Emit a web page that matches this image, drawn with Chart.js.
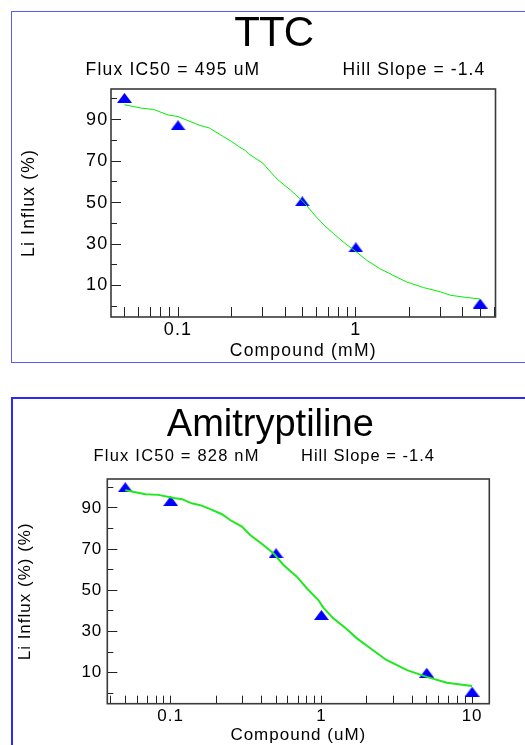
<!DOCTYPE html>
<html>
<head>
<meta charset="utf-8">
<script src="https://cdn.jsdelivr.net/npm/chart.js@4.4.1/dist/chart.umd.min.js"></script>
<style>
  html, body { margin: 0; padding: 0; background: #fff; }
  body { width: 525px; height: 745px; position: relative; overflow: hidden; font-family: "Liberation Sans", Arial, sans-serif; }
  .box { position: absolute; left: 11px; width: 600px; box-sizing: border-box; }
  #box1 { top: 11px; height: 352px; border: 1px solid #5a5aff; }
  #box2 { top: 397px; height: 420px; border: 2px solid #2a2aff; }
  canvas { position: absolute; left: 0; }
  .txt { position: absolute; white-space: nowrap; line-height: 1; color: #000; }
</style>
</head>
<body>
<div class="box" id="box1"></div>
<div class="box" id="box2"></div>
<canvas id="c1" width="525" height="370" style="top:0"></canvas>
<canvas id="c2" width="525" height="375" style="top:370px"></canvas>

<div class="txt" style="left:273.7px; top:11px; font-size:42px; transform:translateX(-50%); letter-spacing:-1px;">TTC</div>
<div class="txt" style="left:85.6px; top:61.2px; font-size:17.5px; letter-spacing:1.2px;">Flux IC50 = 495 uM</div>
<div class="txt" style="left:342.6px; top:61.2px; font-size:17.5px; letter-spacing:1.1px;">Hill Slope = -1.4</div>

<div class="txt" style="left:270.3px; top:403.5px; font-size:38px; transform:translateX(-50%);">Amitryptiline</div>
<div class="txt" style="left:93.6px; top:446.7px; font-size:16.5px; letter-spacing:1.2px;">Flux IC50 = 828 nM</div>
<div class="txt" style="left:301px; top:446.7px; font-size:16.5px; letter-spacing:1px;">Hill Slope = -1.4</div>

<script>
// TTC (mM)
const ttcDose = [0.05, 0.1, 0.5, 1, 5];
const ttcInflux = [100.5, 87.3, 50.6, 28.4, 1.3];
const ttcFitDose = [0.05, 0.062, 0.073, 0.088, 0.1, 0.133, 0.15, 0.18, 0.2, 0.22, 0.24, 0.25, 0.3, 0.35, 0.37, 0.43, 0.49, 0.52, 0.6, 0.68, 0.75, 0.87, 1.0, 1.15, 1.36, 1.62, 1.93, 2.4, 3.0, 3.4, 4.2, 5.0];
const ttcFitInflux = [97.2, 95.6, 94.9, 92.3, 91.5, 87.2, 86.0, 81.8, 79.5, 77.0, 75.0, 73.5, 69.0, 62.5, 60.5, 56.0, 51.5, 49.3, 43.0, 38.2, 35.0, 30.3, 26.4, 22.2, 18.2, 14.9, 11.7, 9.0, 6.9, 5.3, 4.2, 3.5];
const ttcTicksX = [0.05, 0.06, 0.07, 0.08, 0.09, 0.1, 0.2, 0.3, 0.4, 0.5, 0.6, 0.7, 0.8, 0.9, 1, 2, 3, 4, 5, 6];
const ttcLabelsX = [0.1, 1];

// Amitryptiline (uM)
const amiDose = [0.05, 0.1, 0.5, 1, 5, 10];
const amiInflux = [100, 93.3, 68, 38, 10, 0.8];
const amiFitDose = [0.05, 0.068, 0.083, 0.107, 0.119, 0.138, 0.161, 0.188, 0.219, 0.248, 0.297, 0.337, 0.412, 0.48, 0.56, 0.687, 0.8, 0.955, 1.03, 1.2, 1.47, 1.72, 2.1, 2.7, 3.7, 5.0, 6.8, 10];
const amiFitInflux = [98.5, 96.6, 96.3, 94.7, 94.2, 92.2, 91.1, 89.0, 86.9, 84.1, 80.9, 76.8, 72.0, 68.0, 62.3, 56.6, 51.0, 45.3, 41.6, 36.4, 31.2, 26.7, 22.0, 16.2, 11.3, 8.0, 5.2, 3.6];
const amiTicksX = [0.04, 0.05, 0.06, 0.07, 0.08, 0.09, 0.1, 0.2, 0.3, 0.4, 0.5, 0.6, 0.7, 0.8, 0.9, 1, 2, 3, 4, 5, 6, 7, 8, 9, 10];
const amiLabelsX = [0.1, 1, 10];

const yLabelTicks = [10, 30, 50, 70, 90];
const yMinorTicks = [0, 20, 40, 60, 80, 100];

const FONT = '"Liberation Sans", Arial, sans-serif';

// flat blue triangle used as the point marker (centred on the value)
function triangleMark(w, h, color) {
  const c = document.createElement('canvas');
  c.width = w; c.height = h;
  const g = c.getContext('2d');
  g.fillStyle = color;
  g.beginPath();
  g.moveTo(w / 2, 0);
  g.lineTo(w, h);
  g.lineTo(0, h);
  g.closePath();
  g.fill();
  return c;
}
const marker = triangleMark(15, 10, '#0000ff');

// frame round the plot area
const framePlugin = {
  id: 'frame',
  beforeDatasetsDraw(chart) {
    const a = chart.chartArea, ctx = chart.ctx;
    ctx.save();
    ctx.strokeStyle = '#3a3a3a';
    ctx.lineWidth = 1.6;
    ctx.strokeRect(a.left, a.top, a.right - a.left, a.bottom - a.top);
    ctx.restore();
  }
};

function spacing(px) {
  return {
    id: 'spacing',
    beforeUpdate(chart) { chart.ctx.letterSpacing = px; },
    beforeDraw(chart) { chart.ctx.letterSpacing = px; }
  };
}

function makeChart(id, o) {
  const H = o.height;
  return new Chart(document.getElementById(id), {
    type: 'scatter',
    data: {
      datasets: [
        {
          data: o.fitX.map((x, i) => ({ x: x, y: o.fitY[i] })),
          showLine: true,
          borderColor: o.lineColor,
          borderWidth: o.lineWidth,
          pointRadius: 0,
          tension: 0,
          fill: false
        },
        {
          data: o.x.map((x, i) => ({ x: x, y: o.y[i] })),
          pointStyle: marker,
          pointRadius: 8
        }
      ]
    },
    options: {
      responsive: false,
      animation: false,
      events: [],
      layout: { padding: { left: 0, top: o.plot.top, right: 525 - o.plot.right, bottom: 0 } },
      plugins: { legend: { display: false }, tooltip: { enabled: false } },
      scales: {
        x: {
          type: 'logarithmic',
          min: o.xMin, max: o.xMax,
          afterBuildTicks: s => { s.ticks = o.ticksX.map(v => ({ value: v })); },
          afterFit: s => { s.height = H - o.plot.bottom; },
          ticks: {
            autoSkip: false, maxRotation: 0, minRotation: 0,
            color: '#000', padding: o.xPad,
            font: { family: FONT, size: o.tickSize },
            callback: v => o.labelsX.includes(v) ? String(v) : ''
          },
          grid: { drawOnChartArea: false, tickLength: o.xTick, color: '#222', lineWidth: 1 },
          border: { display: false },
          title: {
            display: true, text: o.xTitle, color: '#000',
            font: { family: FONT, size: o.titleSize },
            padding: { top: 0, bottom: o.xTitlePad }
          }
        },
        y: {
          type: 'linear', position: 'left', weight: 1,
          min: o.yMin, max: o.yMax,
          afterBuildTicks: s => { s.ticks = yLabelTicks.map(v => ({ value: v })); },
          afterFit: s => { s.width = o.plot.left; },
          ticks: { color: '#000', padding: o.yPad, font: { family: FONT, size: o.tickSize } },
          grid: { drawOnChartArea: false, tickLength: -10, color: '#222', lineWidth: 1 },
          border: { display: false },
          title: {
            display: true, text: o.yTitle, color: '#000',
            font: { family: FONT, size: o.titleSize },
            padding: { top: o.yTitlePad, bottom: 0 }
          }
        },
        y2: {
          type: 'linear', position: 'left', weight: 0,
          min: o.yMin, max: o.yMax,
          afterBuildTicks: s => { s.ticks = yMinorTicks.map(v => ({ value: v })); },
          afterFit: s => { s.width = 0; },
          ticks: { display: false },
          grid: { drawOnChartArea: false, tickLength: -6, color: '#222', lineWidth: 1 },
          border: { display: false }
        }
      }
    },
    plugins: [framePlugin, spacing(o.spacing)]
  });
}

makeChart('c1', {
  height: 370,
  plot: { left: 111, top: 89, right: 495.5, bottom: 317 },
  x: ttcDose, y: ttcInflux, fitX: ttcFitDose, fitY: ttcFitInflux,
  ticksX: ttcTicksX, labelsX: ttcLabelsX,
  xMin: 0.042, xMax: 6.1, yMin: -5.2, yMax: 104.8,
  lineColor: '#00f000', lineWidth: 1,
  tickSize: 18, titleSize: 17.5, spacing: '1.2px',
  xTick: -10, xPad: 12.6, yPad: 12.5, xTitlePad: 8.2, yTitlePad: 18.5,
  xTitle: 'Compound (mM)', yTitle: 'Li Influx (%)'
});

makeChart('c2', {
  height: 375,
  plot: { left: 107.3, top: 109, right: 489.3, bottom: 333.7 },
  x: amiDose, y: amiInflux, fitX: amiFitDose, fitY: amiFitInflux,
  ticksX: amiTicksX, labelsX: amiLabelsX,
  xMin: 0.038, xMax: 13, yMin: -5, yMax: 104,
  lineColor: '#1ee81e', lineWidth: 2,
  tickSize: 17, titleSize: 17, spacing: '1px',
  xTick: -8, xPad: 10.7, yPad: 15, xTitlePad: -1, yTitlePad: 14.8,
  xTitle: 'Compound (uM)', yTitle: 'Li Influx (%) (%)'
});
</script>
</body>
</html>
